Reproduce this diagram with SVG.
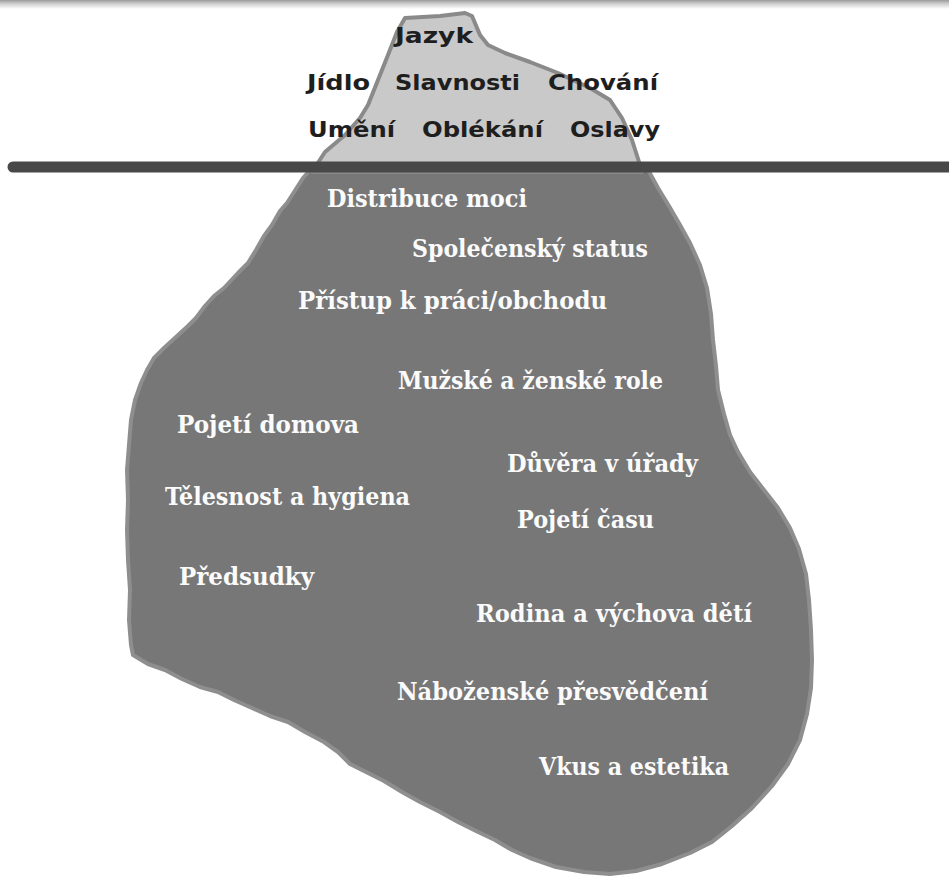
<svg xmlns="http://www.w3.org/2000/svg" width="949" height="877" viewBox="0 0 949 877">
<defs>
<linearGradient id="topfade" x1="0" y1="0" x2="0" y2="1">
<stop offset="0" stop-color="#9a9a9a"/>
<stop offset="0.35" stop-color="#c8c8c8"/>
<stop offset="1" stop-color="#ffffff"/>
</linearGradient>
</defs>
<style>
.top{font-family:"DejaVu Sans","Liberation Sans",sans-serif;font-weight:bold;font-size:21px;fill:#1e1e1e}
.deep{font-family:"DejaVu Serif","Liberation Serif",serif;font-weight:bold;font-size:25px;fill:#fbfbfb}
</style>
<rect width="949" height="877" fill="#ffffff"/>
<rect x="0" y="0" width="949" height="9" fill="url(#topfade)"/>
<g id="underwater">
<path d="M312,168 L303,178 L296,189 L287,203 L280,211 L272,225 L264,236 L256,250 L248,263 L238,273 L224,288 L214,296 L205,306 L196,318 L188,326 L176,337 L164,348 L154,358 L147,370 L141,383 L135,400 L131,420 L129,445 L127,470 L128,500 L127,530 L128,560 L130,590 L129,620 L131,645 L133,655 L148,664 L165,670 L182,679 L200,687 L218,692 L234,700 L252,708 L270,716 L288,722 L305,732 L324,742 L338,752 L350,764 L366,772 L384,781 L402,792 L420,802 L440,812 L458,822 L476,831 L495,840 L512,850 L530,858 L556,867 L584,872 L610,874 L636,871 L662,864 L690,853 L712,842 L732,826 L752,808 L772,786 L788,764 L800,740 L807,714 L811,688 L812,660 L811,630 L809,600 L806,574 L799,549 L790,528 L778,508 L764,490 L750,472 L738,452 L730,435 L724,414 L718,390 L716,366 L713,340 L711,314 L707,288 L700,265 L690,243 L680,225 L669,206 L658,188 L647,168 Z" fill="#777777" stroke="#8e8e8e" stroke-width="4" stroke-linejoin="round"/>
</g>
<g id="tip">
<path d="M312,172 L325,152 L345,135 L360,118 L368,105 L378,80 L388,55 L397,32 L405,18 L440,16 L465,13 L472,16 L480,35 L488,45 L505,53 L530,62 L558,73 L590,88 L610,100 L622,118 L632,140 L640,165 L642,172 Z" fill="#c9c9c9" stroke="#8a8a8a" stroke-width="4" stroke-linejoin="round"/>
</g>
<g id="waterline">
<line x1="13" y1="167" x2="949" y2="167" stroke="#484848" stroke-width="11" stroke-linecap="round"/>
</g>
<g id="visible-labels">
<text id="t-jazyk" class="top" x="395" y="43" textLength="78" lengthAdjust="spacingAndGlyphs">Jazyk</text>
<text id="t-jidlo" class="top" x="307" y="90" textLength="63" lengthAdjust="spacingAndGlyphs">Jídlo</text>
<text id="t-slavnosti" class="top" x="395" y="90" textLength="125" lengthAdjust="spacingAndGlyphs">Slavnosti</text>
<text id="t-chovani" class="top" x="548" y="90" textLength="110" lengthAdjust="spacingAndGlyphs">Chování</text>
<text id="t-umeni" class="top" x="308" y="137" textLength="87" lengthAdjust="spacingAndGlyphs">Umění</text>
<text id="t-oblekani" class="top" x="422" y="137" textLength="121" lengthAdjust="spacingAndGlyphs">Oblékání</text>
<text id="t-oslavy" class="top" x="570" y="137" textLength="90" lengthAdjust="spacingAndGlyphs">Oslavy</text>
</g>
<g id="hidden-labels">
<text id="t-distribuce" class="deep" x="327" y="207" textLength="200" lengthAdjust="spacingAndGlyphs">Distribuce moci</text>
<text id="t-status" class="deep" x="412" y="257" textLength="236" lengthAdjust="spacingAndGlyphs">Společenský status</text>
<text id="t-pristup" class="deep" x="298" y="309" textLength="309" lengthAdjust="spacingAndGlyphs">Přístup k práci/obchodu</text>
<text id="t-role" class="deep" x="398" y="389" textLength="265" lengthAdjust="spacingAndGlyphs">Mužské a ženské role</text>
<text id="t-domov" class="deep" x="177" y="433" textLength="182" lengthAdjust="spacingAndGlyphs">Pojetí domova</text>
<text id="t-duvera" class="deep" x="507" y="472" textLength="191" lengthAdjust="spacingAndGlyphs">Důvěra v úřady</text>
<text id="t-telesnost" class="deep" x="165" y="505" textLength="245" lengthAdjust="spacingAndGlyphs">Tělesnost a hygiena</text>
<text id="t-cas" class="deep" x="517" y="528" textLength="137" lengthAdjust="spacingAndGlyphs">Pojetí času</text>
<text id="t-predsudky" class="deep" x="179" y="585" textLength="135" lengthAdjust="spacingAndGlyphs">Předsudky</text>
<text id="t-rodina" class="deep" x="476" y="622" textLength="276" lengthAdjust="spacingAndGlyphs">Rodina a výchova dětí</text>
<text id="t-nabozenske" class="deep" x="397" y="700" textLength="311" lengthAdjust="spacingAndGlyphs">Náboženské přesvědčení</text>
<text id="t-vkus" class="deep" x="539" y="775" textLength="190" lengthAdjust="spacingAndGlyphs">Vkus a estetika</text>
</g>
</svg>
